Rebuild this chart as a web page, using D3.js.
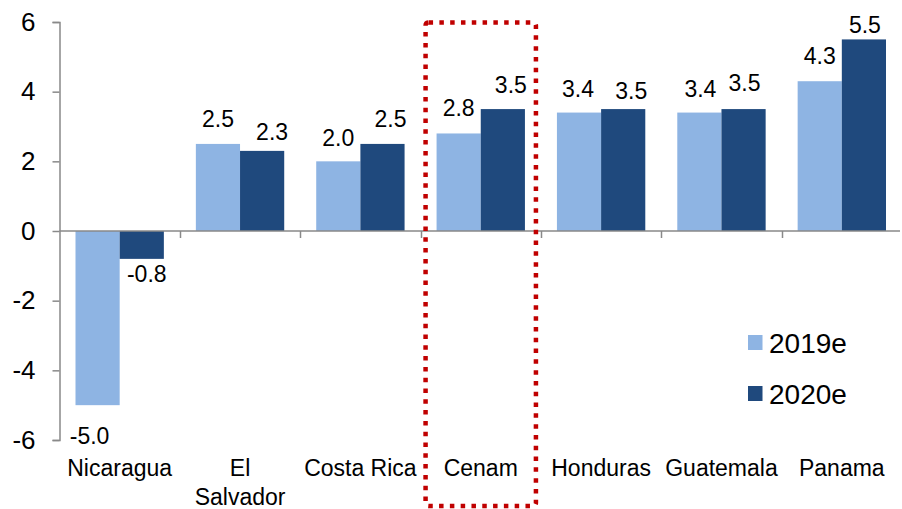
<!DOCTYPE html>
<html>
<head>
<meta charset="utf-8">
<script src="https://cdn.jsdelivr.net/npm/d3@7/dist/d3.min.js"></script>
<style>
  html, body { margin: 0; padding: 0; background: #fff; }
  svg { display: block; font-family: "Liberation Sans", Arial, sans-serif; }
</style>
</head>
<body>
<svg id="chart" width="902" height="509"></svg>
<script>
// Real GDP growth by country, %
const categories = ["Nicaragua", "El Salvador", "Costa Rica", "Cenam", "Honduras", "Guatemala", "Panama"];
const tickLabels = [["Nicaragua"], ["El", "Salvador"], ["Costa Rica"], ["Cenam"], ["Honduras"], ["Guatemala"], ["Panama"]];
const seriesNames = ["2019e", "2020e"];
const values2019 = [-5.0, 2.5, 2.0, 2.8, 3.4, 3.4, 4.3];
const values2020 = [-0.8, 2.3, 2.5, 3.5, 3.5, 3.5, 5.5];
const yTicks = [-6, -4, -2, 0, 2, 4, 6];
const highlighted = "Cenam";

// Small per-label offsets so value labels don't crowd each other
const labelNudge2019 = [[-8, 16], [0, 0], [0, 2], [0, 0], [-1, 1], [1, 1], [0, 0]];
const labelNudge2020 = [[5, 0], [10, 6], [8, 0], [8, 1], [8, 7], [1, -1], [1, 11]];

const colors = { "2019e": "#8EB4E3", "2020e": "#1F497D" };
const axisColor = "#898989";

const svg = d3.select("#chart");

const y = d3.scaleLinear().domain([-6, 6]).range([440, 22]);
const x = d3.scaleBand().domain(categories).range([59.5, 902]);
const xs = d3.scaleBand().domain(seriesNames).range([16, x.bandwidth() - 16]);

const rows = categories.map((c, i) => ({
  cat: c,
  vals: [
    { s: "2019e", v: values2019[i], nudge: labelNudge2019[i] },
    { s: "2020e", v: values2020[i], nudge: labelNudge2020[i] }
  ]
}));

// Bars
const groups = svg.append("g").selectAll("g")
  .data(rows).join("g")
  .attr("transform", d => `translate(${x(d.cat)},0)`);

groups.selectAll("rect")
  .data(d => d.vals).join("rect")
  .attr("x", d => xs(d.s))
  .attr("width", xs.bandwidth())
  .attr("y", d => y(Math.max(0, d.v)))
  .attr("height", d => Math.abs(y(d.v) - y(0)))
  .attr("fill", d => colors[d.s]);

// Y axis
const yAxis = svg.append("g")
  .attr("transform", "translate(59.5,0)")
  .call(d3.axisLeft(y).tickValues(yTicks).tickSize(7).tickPadding(17).tickFormat(d3.format("d")));
yAxis.select(".domain").attr("stroke", axisColor).attr("stroke-width", 1.5);
yAxis.selectAll(".tick line").attr("stroke", axisColor).attr("stroke-width", 1.5);
yAxis.selectAll(".tick text")
  .attr("fill", "#000")
  .style("font-size", "26px")
  .style("font-family", "Liberation Sans, Arial, sans-serif")
  .text(d => d < 0 ? "-" + Math.abs(d) : d);

// Zero line with category separators
const zeroY = y(0);
svg.append("line")
  .attr("x1", 59.5).attr("x2", 900)
  .attr("y1", zeroY).attr("y2", zeroY)
  .attr("stroke", axisColor).attr("stroke-width", 1.5);
svg.append("g").selectAll("line")
  .data(categories.slice(1)).join("line")
  .attr("x1", d => Math.round(x(d)) + 0.5).attr("x2", d => Math.round(x(d)) + 0.5)
  .attr("y1", zeroY).attr("y2", zeroY + 7)
  .attr("stroke", axisColor).attr("stroke-width", 1.5);

// Category labels
const catText = svg.append("g").selectAll("text")
  .data(categories).join("text")
  .attr("x", d => x(d) + x.bandwidth() / 2)
  .attr("y", 476)
  .attr("text-anchor", "middle")
  .style("font-size", "23px")
  .attr("fill", "#000");
catText.each(function(d, i) {
  const t = d3.select(this);
  tickLabels[i].forEach((line, j) => {
    t.append("tspan")
      .attr("x", x(d) + x.bandwidth() / 2)
      .attr("dy", j === 0 ? 0 : 29)
      .text(line);
  });
});

// Value labels
groups.selectAll("text")
  .data(d => d.vals).join("text")
  .attr("x", d => xs(d.s) + xs.bandwidth() / 2 + d.nudge[0])
  .attr("y", d => (d.v >= 0 ? y(d.v) - 17 : y(d.v) + 23) + d.nudge[1])
  .attr("text-anchor", "middle")
  .style("font-size", "23px")
  .attr("fill", "#000")
  .text(d => (d.v < 0 ? "-" : "") + Math.abs(d.v).toFixed(1));

// Highlight frame around the regional aggregate
svg.append("rect")
  .attr("x", x(highlighted) + 5)
  .attr("y", 22.5)
  .attr("width", x.bandwidth() - 10)
  .attr("height", 483.5)
  .attr("rx", 3)
  .attr("fill", "none")
  .attr("stroke", "#C00000")
  .attr("stroke-width", 4.5)
  .attr("stroke-dasharray", "4.5 6.3");

// Legend
const legend = svg.append("g").selectAll("g")
  .data(seriesNames).join("g")
  .attr("transform", (d, i) => `translate(748,${335 + i * 51})`);
legend.append("rect")
  .attr("width", 14.5).attr("height", 15)
  .attr("fill", d => colors[d]);
legend.append("text")
  .attr("x", 21).attr("y", 17.5)
  .style("font-size", "28px")
  .attr("fill", "#000")
  .text(d => d);
</script>
</body>
</html>
